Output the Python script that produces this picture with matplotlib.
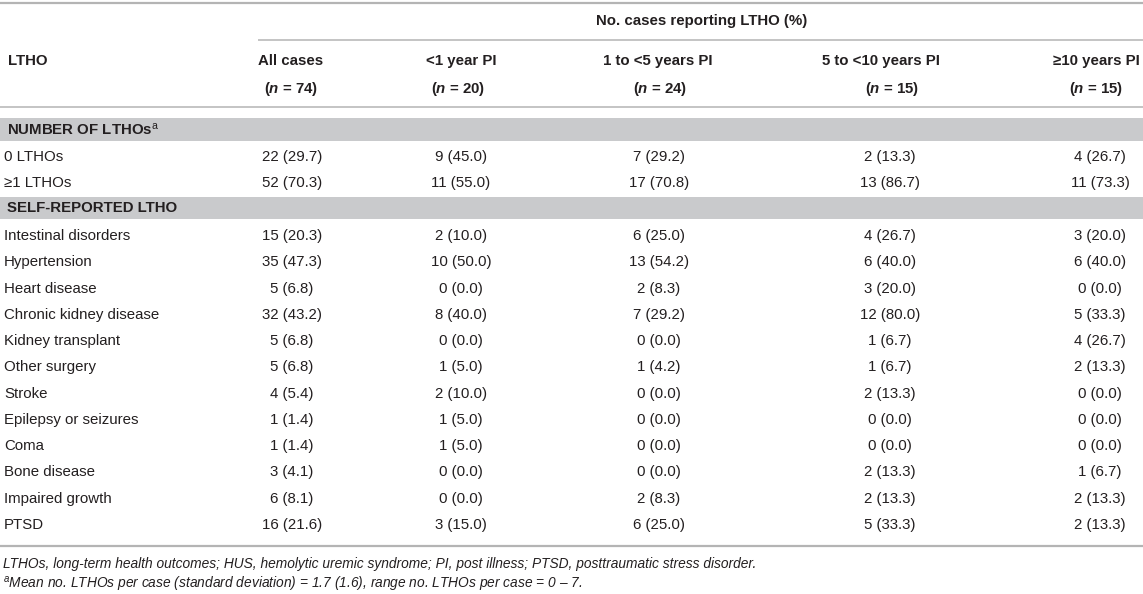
import matplotlib
matplotlib.use("Agg")
import matplotlib.pyplot as plt

plt.rcParams['font.family'] = ['Liberation Sans', 'DejaVu Sans']
plt.rcParams['mathtext.fontset'] = 'custom'
plt.rcParams['mathtext.rm'] = 'Liberation Sans'
plt.rcParams['mathtext.it'] = 'Liberation Sans:italic:bold'
plt.rcParams['mathtext.sf'] = 'Liberation Sans:italic'
plt.rcParams['mathtext.bf'] = 'Liberation Sans:bold'

# table content
group_title = "No. cases reporting LTHO (%)"
col_heads = ["All cases", "<1 year PI", "1 to <5 years PI", "5 to <10 years PI", "≥10 years PI"]
col_n = [74, 20, 24, 15, 15]

section1 = "NUMBER OF LTHOs$^{\\mathrm{a}}$"
labels1 = ["0 LTHOs", "≥1 LTHOs"]
all1 = ["22 (29.7)", "52 (70.3)"]
lt1_1 = ["9 (45.0)", "11 (55.0)"]
y1to5_1 = ["7 (29.2)", "17 (70.8)"]
y5to10_1 = ["2 (13.3)", "13 (86.7)"]
ge10_1 = ["4 (26.7)", "11 (73.3)"]

section2 = "SELF-REPORTED LTHO"
labels2 = ["Intestinal disorders", "Hypertension", "Heart disease", "Chronic kidney disease",
           "Kidney transplant", "Other surgery", "Stroke", "Epilepsy or seizures", "Coma",
           "Bone disease", "Impaired growth", "PTSD"]
all2 = ["15 (20.3)", "35 (47.3)", "5 (6.8)", "32 (43.2)", "5 (6.8)", "5 (6.8)", "4 (5.4)",
        "1 (1.4)", "1 (1.4)", "3 (4.1)", "6 (8.1)", "16 (21.6)"]
lt1_2 = ["2 (10.0)", "10 (50.0)", "0 (0.0)", "8 (40.0)", "0 (0.0)", "1 (5.0)", "2 (10.0)",
         "1 (5.0)", "1 (5.0)", "0 (0.0)", "0 (0.0)", "3 (15.0)"]
y1to5_2 = ["6 (25.0)", "13 (54.2)", "2 (8.3)", "7 (29.2)", "0 (0.0)", "1 (4.2)", "0 (0.0)",
           "0 (0.0)", "0 (0.0)", "0 (0.0)", "2 (8.3)", "6 (25.0)"]
y5to10_2 = ["4 (26.7)", "6 (40.0)", "3 (20.0)", "12 (80.0)", "1 (6.7)", "1 (6.7)", "2 (13.3)",
            "0 (0.0)", "0 (0.0)", "2 (13.3)", "2 (13.3)", "5 (33.3)"]
ge10_2 = ["3 (20.0)", "6 (40.0)", "0 (0.0)", "5 (33.3)", "4 (26.7)", "2 (13.3)", "0 (0.0)",
          "0 (0.0)", "0 (0.0)", "1 (6.7)", "2 (13.3)", "2 (13.3)"]

foot1 = "LTHOs, long-term health outcomes; HUS, hemolytic uremic syndrome; PI, post illness; PTSD, posttraumatic stress disorder."
foot2 = "$^{\\mathsf{a}}$Mean no. LTHOs per case (standard deviation) = 1.7 (1.6), range no. LTHOs per case = 0 – 7."

# layout (pixel coordinates)
W, H = 1143, 594
head_left = [258, 426, 603, 822, 1053]
n_cent = [291, 458, 660, 892, 1096]
val_cent = [292, 461, 659, 890, 1100]
line_col = '#b4b4b4'
bar_col = '#c9cacc'
txt_col = '#231f20'
fs = 10.8

fig = plt.figure(figsize=(W / 100, H / 100), dpi=100)
ax = fig.add_axes([0, 0, 1, 1])
ax.set_xlim(0, W)
ax.set_ylim(H, 0)
ax.axis('off')

# rules and section bars
ax.hlines(3, 0, W, color=line_col, lw=1.6)
ax.hlines(40, head_left[0], W, color=line_col, lw=1.1)
ax.hlines(107, 0, W, color=line_col, lw=1.1)
ax.axhspan(118, 141, color=bar_col, lw=0)
ax.axhspan(197, 219, color=bar_col, lw=0)
ax.hlines(546, 0, W, color=line_col, lw=1.6)

# header
ax.text((head_left[0] + W) / 2 + 1, 21, group_title, ha='center', va='center',
        fontsize=fs, fontweight='bold', color=txt_col)
ax.text(8, 61, "LTHO", ha='left', va='center', fontsize=fs, fontweight='bold', color=txt_col)
for i in range(len(col_heads)):
    ax.text(head_left[i], 61, col_heads[i], ha='left', va='center',
            fontsize=fs, fontweight='bold', color=txt_col)
    ax.text(n_cent[i], 89, "($n$ = " + str(col_n[i]) + ")", ha='center', va='center',
            fontsize=fs, fontweight='bold', color=txt_col)


def draw_rows(y0, labels, cols):
    for r in range(len(labels)):
        y = y0 + r * 26.27
        ax.text(4, y, labels[r], ha='left', va='center', fontsize=fs, color=txt_col)
        for c in range(len(cols)):
            ax.text(val_cent[c], y, cols[c][r], ha='center', va='center',
                    fontsize=fs, color=txt_col)


ax.text(7, 130, section1, ha='left', va='center', fontsize=fs, fontweight='bold', color=txt_col)
draw_rows(157, labels1, [all1, lt1_1, y1to5_1, y5to10_1, ge10_1])
ax.text(7, 208.5, section2, ha='left', va='center', fontsize=fs, fontweight='bold', color=txt_col)
draw_rows(236, labels2, [all2, lt1_2, y1to5_2, y5to10_2, ge10_2])

# footnotes
ax.text(3, 564, foot1, ha='left', va='center', fontsize=9.95, style='italic', color=txt_col)
ax.text(3, 584, foot2, ha='left', va='center', fontsize=9.95, style='italic', color=txt_col)

fig.savefig("out.png", dpi=100)
